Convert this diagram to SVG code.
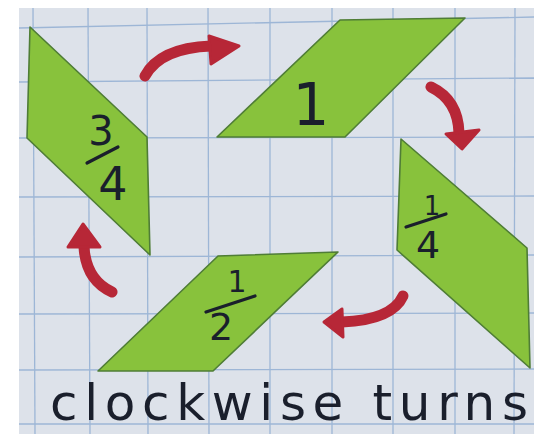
<svg xmlns="http://www.w3.org/2000/svg" width="534" height="434" viewBox="0 0 534 434">
<style>
.grid line{stroke:#9db6d6;stroke-width:1.3}
.shape{fill:#88c23c;stroke:#4f7d36;stroke-width:1.6;stroke-linejoin:round}
.ink{font-family:"DejaVu Sans","Liberation Sans",sans-serif;fill:#1a1f2c}
.bar{stroke:#1a1f2c;stroke-width:3.2;stroke-linecap:round}
.shaft{fill:none;stroke:#b72737;stroke-width:11;stroke-linecap:round}
.head{fill:#b72737;stroke:#b72737;stroke-width:3;stroke-linejoin:round}
</style>
<rect width="534" height="434" fill="#ffffff"/>
<rect x="19" y="8" width="515" height="426" fill="#dde2ea"/>
<g class="grid">
<line x1="33" y1="8" x2="35" y2="434"/>
<line x1="88" y1="8" x2="90" y2="434"/>
<line x1="147" y1="8" x2="148" y2="434"/>
<line x1="208" y1="8" x2="209" y2="434"/>
<line x1="270" y1="8" x2="270" y2="434"/>
<line x1="332" y1="8" x2="332" y2="434"/>
<line x1="393" y1="8" x2="393" y2="434"/>
<line x1="455" y1="8" x2="455" y2="434"/>
<line x1="515" y1="8" x2="514" y2="434"/>
<line x1="19" y1="28" x2="534" y2="17"/>
<line x1="19" y1="82" x2="534" y2="78"/>
<line x1="19" y1="138" x2="534" y2="137"/>
<line x1="19" y1="197" x2="534" y2="196"/>
<line x1="19" y1="257" x2="534" y2="255"/>
<line x1="19" y1="314" x2="534" y2="313"/>
<line x1="19" y1="370" x2="534" y2="369"/>
<line x1="19" y1="424" x2="534" y2="424"/>
</g>
<g id="node-three-quarters">
<polygon class="shape" points="30,27 147,137 150,255 27,138"/>
<text class="ink" x="101" y="145" font-size="40" text-anchor="middle">3</text>
<line class="bar" x1="87" y1="163" x2="118" y2="147"/>
<text class="ink" x="113" y="200" font-size="46" text-anchor="middle">4</text>
</g>
<g id="node-one">
<polygon class="shape" points="217,137 340,20 465,18 345,137"/>
<text class="ink" x="311" y="125" font-size="58" text-anchor="middle">1</text>
</g>
<g id="node-one-quarter">
<polygon class="shape" points="401,139 527,248 530,368 397,250"/>
<text class="ink" x="432" y="215" font-size="26" text-anchor="middle">1</text>
<line class="bar" x1="406" y1="227" x2="446" y2="214"/>
<text class="ink" x="428" y="258" font-size="38" text-anchor="middle">4</text>
</g>
<g id="node-one-half">
<polygon class="shape" points="98,371 218,256 338,252 213,371"/>
<text class="ink" x="237" y="292" font-size="30" text-anchor="middle">1</text>
<line class="bar" x1="206" y1="312" x2="255" y2="296"/>
<text class="ink" x="221" y="340" font-size="38" text-anchor="middle">2</text>
</g>
<g id="connectors">
<path class="shaft" d="M145,76 Q160,48 211,46"/>
<polygon class="head" points="209,36 239,46 211,64"/>
<path class="shaft" d="M431,87 Q458,100 459,133"/>
<polygon class="head" points="446,134 479,130 462,149"/>
<path class="shaft" d="M403,296 Q392,320 342,322"/>
<polygon class="head" points="342,309 324,322 343,337"/>
<path class="shaft" d="M112,292 Q86,280 84,247"/>
<polygon class="head" points="68,247 83,224 100,247"/>
</g>
<text class="ink" x="50" y="420" font-size="50" textLength="478" lengthAdjust="spacing" fill="#1c2236">clockwise turns</text>
</svg>
